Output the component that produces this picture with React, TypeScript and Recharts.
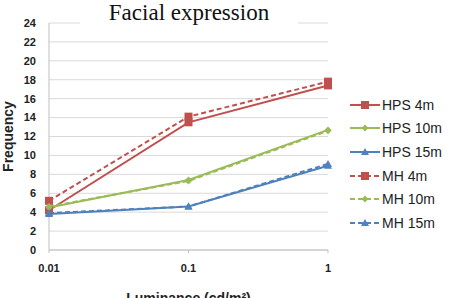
import { LineChart, Line, XAxis, YAxis, CartesianGrid } from "recharts";

const categories = ["0.01", "0.1", "1"];
const hps4m = [4.2, 13.5, 17.4];
const hps10m = [4.5, 7.4, 12.7];
const hps15m = [3.8, 4.6, 8.9];
const mh4m = [5.2, 14.1, 17.8];
const mh10m = [4.6, 7.3, 12.6];
const mh15m = [3.9, 4.6, 9.1];
const yTicks = [0, 2, 4, 6, 8, 10, 12, 14, 16, 18, 20, 22, 24];

const RED = "#C0504D";
const GREEN = "#9BBB59";
const BLUE = "#4F81BD";
const SANS = "Arial, 'Liberation Sans', sans-serif";

type Shape = "square" | "diamond" | "triangle";

const series: { key: string; name: string; values: number[]; color: string; dashed: boolean; shape: Shape }[] = [
  { key: "hps4", name: "HPS 4m", values: hps4m, color: RED, dashed: false, shape: "square" },
  { key: "hps10", name: "HPS 10m", values: hps10m, color: GREEN, dashed: false, shape: "diamond" },
  { key: "hps15", name: "HPS 15m", values: hps15m, color: BLUE, dashed: false, shape: "triangle" },
  { key: "mh4", name: "MH 4m", values: mh4m, color: RED, dashed: true, shape: "square" },
  { key: "mh10", name: "MH 10m", values: mh10m, color: GREEN, dashed: true, shape: "diamond" },
  { key: "mh15", name: "MH 15m", values: mh15m, color: BLUE, dashed: true, shape: "triangle" },
];

const data = categories.map((c, i) => {
  const row: Record<string, string | number> = { lum: c };
  for (const s of series) row[s.key] = s.values[i];
  return row;
});

function Marker({ cx, cy, shape, color }: { cx: number; cy: number; shape: Shape; color: string }) {
  if (shape === "square") return <rect x={cx - 4} y={cy - 4} width={8} height={8} fill={color} />;
  if (shape === "diamond")
    return <polygon points={`${cx},${cy - 3.5} ${cx + 3.5},${cy} ${cx},${cy + 3.5} ${cx - 3.5},${cy}`} fill={color} />;
  return <polygon points={`${cx},${cy - 4} ${cx + 4},${cy + 3} ${cx - 4},${cy + 3}`} fill={color} />;
}

// series key, drawn to the right of the plot
function LegendBox() {
  return (
    <div style={{ position: "absolute", left: 350, top: 93, fontFamily: SANS, fontSize: 14, color: "#222" }}>
      {series.map((s) => (
        <div key={s.key} style={{ display: "flex", alignItems: "center", height: 23.6 }}>
          <svg width={32} height={12}>
            <line x1={0} y1={6} x2={30} y2={6} stroke={s.color} strokeWidth={2} strokeDasharray={s.dashed ? "5 3" : undefined} />
            <Marker cx={15} cy={6} shape={s.shape} color={s.color} />
          </svg>
          <span>{s.name}</span>
        </div>
      ))}
    </div>
  );
}

const tickStyle = { fill: "#222", fontSize: 11, fontWeight: 700, fontFamily: SANS };

export default function App() {
  return (
    <div style={{ position: "absolute", left: 0, top: 0, width: 453, height: 298, background: "#fff", overflow: "hidden" }}>
      <LineChart width={453} height={298} data={data} margin={{ top: 23, right: 125, bottom: 0, left: 0 }}>
        <CartesianGrid vertical={false} stroke="#D9D9D9" strokeWidth={1} />
        <XAxis
          dataKey="lum"
          height={48}
          padding={{ left: 0, right: 0 }}
          axisLine={{ stroke: "#BFBFBF" }}
          tickLine={{ stroke: "#BFBFBF" }}
          tickSize={3}
          tick={tickStyle}
          dy={9}
          label={{
            value: "Luminance (cd/m²)",
            position: "insideBottom",
            offset: -5,
            style: { fill: "#222", fontSize: 14, fontWeight: 700, fontFamily: SANS },
          }}
        />
        <YAxis
          width={49}
          domain={[0, 24]}
          ticks={yTicks}
          interval={0}
          axisLine={{ stroke: "#BFBFBF" }}
          tickLine={false}
          tick={tickStyle}
          tickMargin={7}
          label={{
            value: "Frequency",
            angle: -90,
            position: "insideLeft",
            offset: 8,
            style: { fill: "#222", fontSize: 14, fontWeight: 700, textAnchor: "middle", fontFamily: SANS },
          }}
        />
        {series.map((s) => (
          <Line
            key={s.key}
            dataKey={s.key}
            name={s.name}
            type="linear"
            stroke={s.color}
            strokeWidth={2}
            strokeDasharray={s.dashed ? "5 3" : undefined}
            dot={(p: any) => <Marker key={`${s.key}-${p.index}`} cx={p.cx} cy={p.cy} shape={s.shape} color={s.color} />}
            activeDot={false}
            isAnimationActive={false}
          />
        ))}
      </LineChart>
      <LegendBox />
      <div
        style={{
          position: "absolute",
          left: 80,
          top: 0,
          width: 218,
          height: 28,
          background: "#fff",
          textAlign: "center",
          fontFamily: "'Liberation Serif', 'Times New Roman', serif",
          fontSize: 23,
          lineHeight: "25px",
          color: "#111",
        }}
      >
        Facial expression
      </div>
    </div>
  );
}
